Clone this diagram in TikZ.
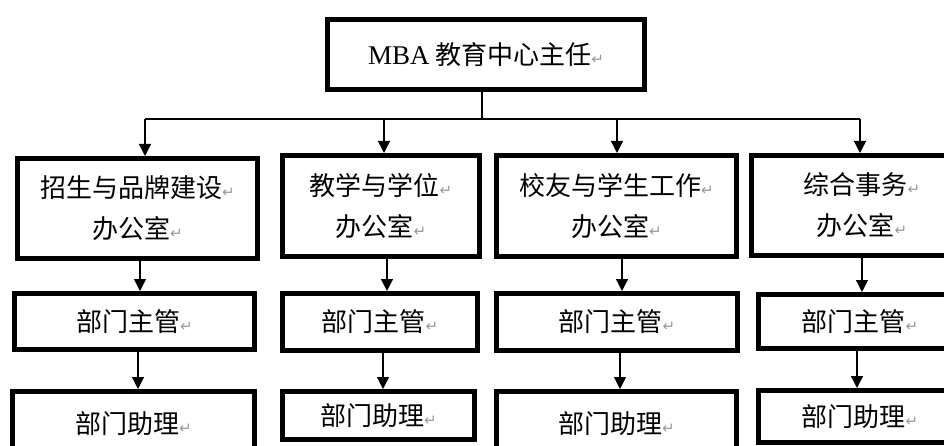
\documentclass[tikz,border=0pt]{standalone}
\usepackage{fontspec}
\setmainfont{Liberation Serif}
\newfontfamily\cjk{Noto Sans CJK SC}
\newfontfamily\symf{DejaVu Sans}
\usetikzlibrary{arrows.meta}
\newcommand\pmark{{\symf\fontsize{15}{15}\selectfont\textcolor{black!40}{↵}}}
\begin{document}
\begin{tikzpicture}[x=1pt,y=-1pt,
  box/.style={draw,line width=5pt,rectangle,inner sep=0pt,align=center,
    font=\cjk\fontsize{26}{41}\selectfont},
  arr/.style={line width=1.3pt,-{Triangle[length=12pt,width=12pt]}},
  busline/.style={line width=1.3pt}]
\useasboundingbox (0,0) rectangle (944,446);
\clip (0,0) rectangle (944,446);
% top
\node[box,minimum width=317pt,minimum height=70pt] (top) at (486,54.5)
  {{\rmfamily\fontsize{27}{30}\selectfont MBA} 教育中心主任\pmark};
% row 1
\node[box,minimum width=240pt,minimum height=100pt] (r1c1) at (137.5,208.5) {招生与品牌建设\pmark\\办公室\pmark};
\node[box,minimum width=197pt,minimum height=101pt] (r1c2) at (381,206) {教学与学位\pmark\\办公室\pmark};
\node[box,minimum width=240pt,minimum height=101pt] (r1c3) at (616.5,206) {校友与学生工作\pmark\\办公室\pmark};
\node[box,minimum width=221pt,minimum height=100pt] (r1c4) at (862,205.5) {综合事务\pmark\\办公室\pmark};
% row 2
\node[box,minimum width=240pt,minimum height=56pt] (r2c1) at (134.5,321.5) {部门主管\pmark};
\node[box,minimum width=195pt,minimum height=57pt] (r2c2) at (380,322) {部门主管\pmark};
\node[box,minimum width=241pt,minimum height=57pt] (r2c3) at (617,322) {部门主管\pmark};
\node[box,minimum width=203pt,minimum height=54pt] (r2c4) at (860,321.5) {部门主管\pmark};
% row 3
\node[box,minimum width=242pt,minimum height=64pt] (r3c1) at (133.5,423.5) {部门助理\pmark};
\node[box,minimum width=192pt,minimum height=48pt] (r3c2) at (378.5,415.5) {部门助理\pmark};
\node[box,minimum width=240pt,minimum height=64pt] (r3c3) at (616.5,423.5) {部门助理\pmark};
\node[box,minimum width=203pt,minimum height=52pt] (r3c4) at (860,416.5) {部门助理\pmark};
% bus
\coordinate (hub) at (482,119);
\coordinate (b1) at (145,119);
\coordinate (b2) at (384,119);
\coordinate (b3) at (617,119);
\coordinate (b4) at (860,119);
\draw[busline] (top.south -| hub) -- (hub);
\draw[busline] (b1) -- (b4);
\draw[arr] (b1) -- (b1 |- r1c1.north);
\draw[arr] (b2) -- (b2 |- r1c2.north);
\draw[arr] (b3) -- (b3 |- r1c3.north);
\draw[arr] (b4) -- (b4 |- r1c4.north);
% row1 -> row2
\coordinate (p1) at (140,0);
\coordinate (p2) at (387,0);
\coordinate (p3) at (622,0);
\coordinate (p4) at (862,0);
\draw[arr] (r1c1.south -| p1) -- (r2c1.north -| p1);
\draw[arr] (r1c2.south -| p2) -- (r2c2.north -| p2);
\draw[arr] (r1c3.south -| p3) -- (r2c3.north -| p3);
\draw[arr] (r1c4.south -| p4) -- (r2c4.north -| p4);
% row2 -> row3
\coordinate (q1) at (138,0);
\coordinate (q2) at (383,0);
\coordinate (q3) at (620,0);
\coordinate (q4) at (857,0);
\draw[arr] (r2c1.south -| q1) -- (r3c1.north -| q1);
\draw[arr] (r2c2.south -| q2) -- (r3c2.north -| q2);
\draw[arr] (r2c3.south -| q3) -- (r3c3.north -| q3);
\draw[arr] (r2c4.south -| q4) -- (r3c4.north -| q4);
\end{tikzpicture}
\end{document}
